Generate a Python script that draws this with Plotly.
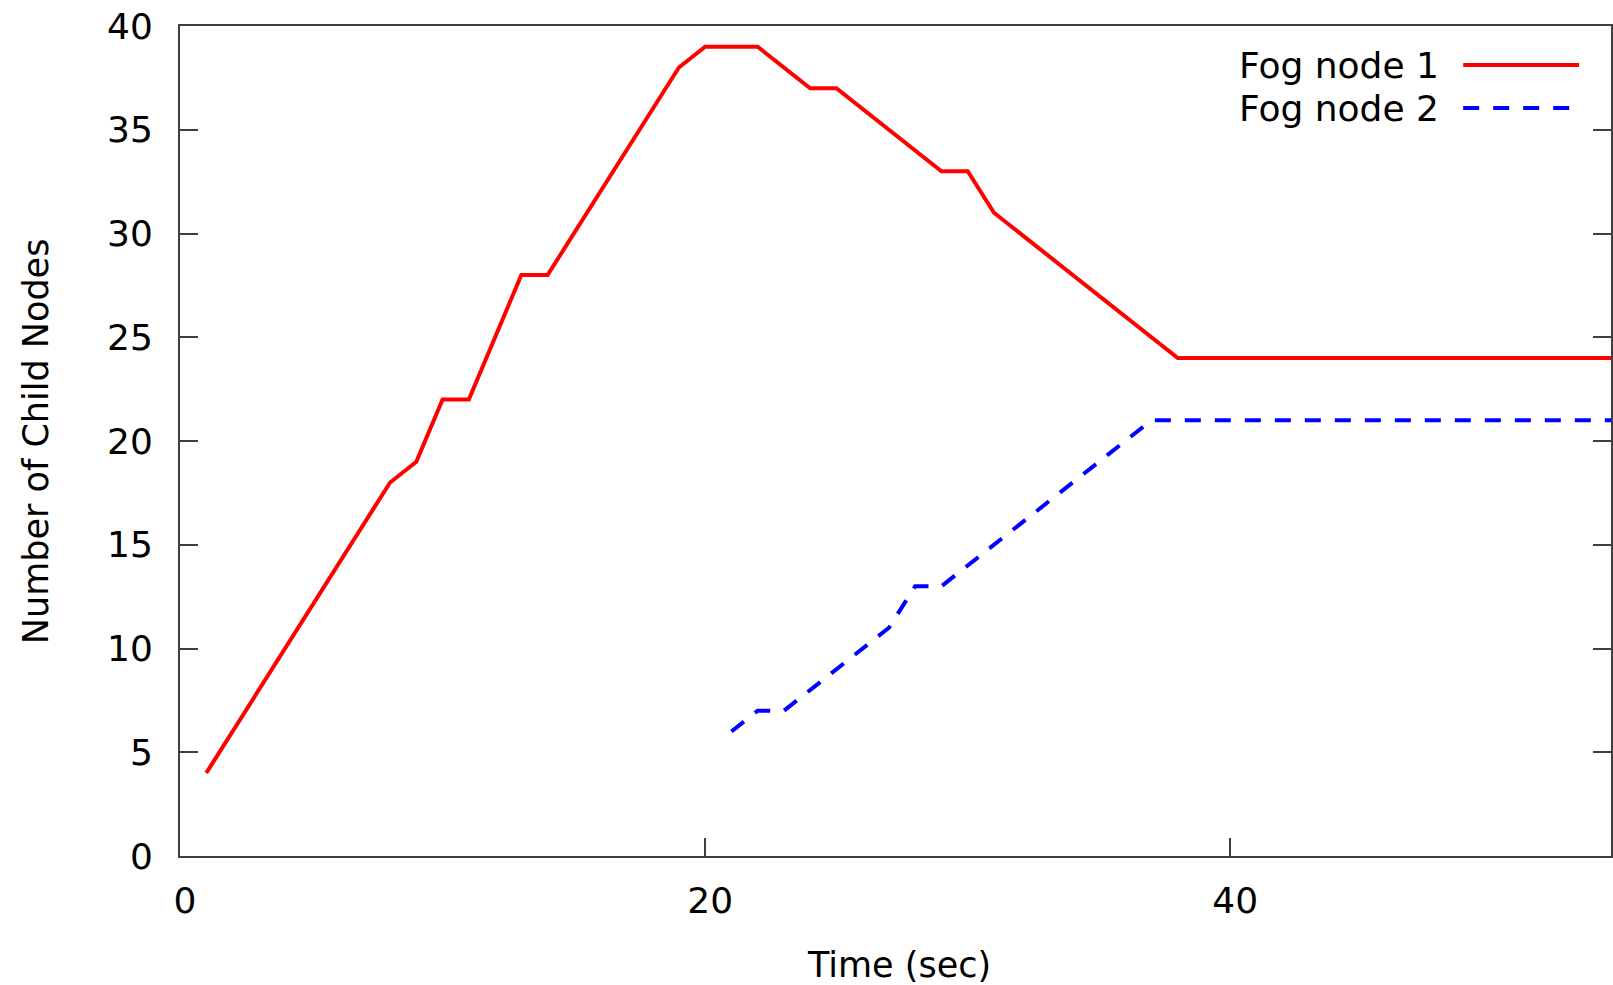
import plotly.graph_objects as go

# ---- data ----
fog1_time = [1, 8, 9, 10, 11, 13, 14, 19, 20, 22, 24, 25, 29, 30, 31, 38, 60]
fog1_nodes = [4, 18, 19, 22, 22, 28, 28, 38, 39, 39, 37, 37, 33, 33, 31, 24, 24]
fog2_time = [21, 22, 23, 27, 28, 29, 37, 60]
fog2_nodes = [6, 7, 7, 11, 13, 13, 21, 21]
series_names = ["Fog node 1", "Fog node 2"]
x_ticks = [0, 20, 40]
y_ticks = [0, 5, 10, 15, 20, 25, 30, 35, 40]

W, H = 1613, 985
L, R, T, B = 180, 0, 26, 129
FONT = "DejaVu Sans"
AXC = "#404040"

fig = go.Figure()
fig.add_trace(go.Scatter(x=fog1_time, y=fog1_nodes, mode="lines", name=series_names[0],
                         line=dict(color="#ff0000", width=4), showlegend=False))
fig.add_trace(go.Scatter(x=fog2_time, y=fog2_nodes, mode="lines", name=series_names[1],
                         line=dict(color="#0000ff", width=4, dash="16px,14px"), showlegend=False))

pw = W - L - R
ph = H - T - B


def px(xp):
    return (xp - L) / pw


def py(yp):
    return (H - B - yp) / ph


# custom gnuplot-style legend (text left, sample right)
legend_rows = [(series_names[0], 65, "#ff0000", "solid", 1581),
               (series_names[1], 108, "#0000ff", "16px,14px", 1576)]
for name, yy, col, dash, xend in legend_rows:
    fig.add_annotation(x=px(1443), y=py(yy), xref="paper", yref="paper", text=name,
                       showarrow=False, xanchor="right", yanchor="middle",
                       font=dict(family=FONT, size=36, color="black"))
    fig.add_shape(type="line", xref="paper", yref="paper", x0=px(1465), x1=px(xend),
                  y0=py(yy), y1=py(yy), line=dict(color=col, width=4, dash=dash))

# axis titles
fig.add_annotation(x=px(900), y=py(965), xref="paper", yref="paper", text="Time (sec)",
                   showarrow=False, xanchor="center", yanchor="middle",
                   font=dict(family=FONT, size=35, color="black"))
fig.add_annotation(x=px(36), y=py(441), xref="paper", yref="paper", text="Number of Child Nodes",
                   showarrow=False, xanchor="center", yanchor="middle", textangle=-90,
                   font=dict(family=FONT, size=35, color="black"))

fig.update_layout(
    width=W, height=H,
    margin=dict(l=L, r=R, t=T, b=B, pad=0),
    paper_bgcolor="white", plot_bgcolor="white",
    font=dict(family=FONT, size=36, color="black"),
    showlegend=False,
    xaxis=dict(range=[0, 54.5], tickvals=x_ticks, ticktext=[str(v) for v in x_ticks],
               ticks="inside", ticklen=18, tickwidth=2, tickcolor=AXC,
               showline=True, linecolor=AXC, linewidth=2, mirror=True,
               showgrid=False, zeroline=False, ticklabelstandoff=12, ticklabelshift=5,
               tickfont=dict(family=FONT, size=36, color="black")),
    yaxis=dict(range=[0, 40], tickvals=y_ticks, ticktext=[str(v) for v in y_ticks],
               ticks="inside", ticklen=18, tickwidth=2, tickcolor=AXC,
               showline=True, linecolor=AXC, linewidth=2, mirror="ticks",
               showgrid=False, zeroline=False, ticklabelstandoff=18,
               tickfont=dict(family=FONT, size=36, color="black")),
)

fig.write_html("out.html", config={"displayModeBar": False})

# remove default page margins so the figure sits at the window's top-left corner
with open("out.html", "r", encoding="utf-8") as f:
    html = f.read()
html = html.replace("<head>", "<head><style>html,body{margin:0;padding:0;overflow:hidden;}</style>", 1)
with open("out.html", "w", encoding="utf-8") as f:
    f.write(html)
